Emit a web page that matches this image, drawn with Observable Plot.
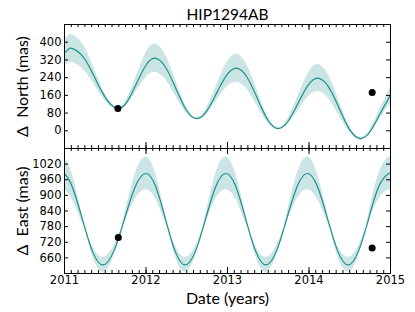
<!DOCTYPE html>
<html><head><meta charset="utf-8">
<script src="https://cdn.jsdelivr.net/npm/d3@7"></script>
<script src="https://cdn.jsdelivr.net/npm/@observablehq/plot@0.6"></script>
<style>
body{margin:0;background:#fff}
#c{position:relative;width:415px;height:312px;overflow:hidden}
#c svg{position:absolute;left:0}
</style>
</head><body><div id="c"></div>
<script>
// ---- data ----
const northYears  = [2011.000,2011.045,2011.090,2011.233,2011.375,2011.518,2011.660,2011.773,2011.885,2011.998,2012.110,2012.238,2012.365,2012.493,2012.620,2012.743,2012.865,2012.988,2013.110,2013.238,2013.365,2013.493,2013.620,2013.743,2013.865,2013.988,2014.110,2014.240,2014.370,2014.500,2014.630,2014.753,2014.875,2015.000];
const northMean   = [352,366,372,332,237,141,101,134,215,295,328,288,192,95,55,88,169,250,283,243,147,50,10,43,124,205,238,198,102,5,-35,-2,79,160];
const northSpread = [60,62,63,55,34,14,5,14,35,55,64,55,35,14,5,14,35,55,64,55,35,14,5,13,33,53,61,53,33,13,5,10,22,37];
const northObsYears = [2011.655, 2014.775];
const northObs      = [101, 173];

const eastYears  = [2011.000,2011.095,2011.220,2011.260,2011.345,2011.470,2011.603,2011.693,2011.735,2011.868,2012.000,2012.120,2012.240,2012.278,2012.360,2012.480,2012.605,2012.690,2012.730,2012.855,2012.980,2013.103,2013.225,2013.264,2013.348,2013.470,2013.598,2013.684,2013.725,2013.853,2013.980,2014.105,2014.230,2014.270,2014.355,2014.480,2014.605,2014.690,2014.730,2014.855,2014.980,2015.000];
const eastMean   = [982,933,808,765,684,633,684,765,808,933,984,933,808,765,684,633,684,765,808,933,984,933,808,765,684,633,684,765,808,933,984,933,808,765,684,633,684,765,808,933,984,983];
const eastSpread = [61,48,15,4,19,29,19,4,15,48,62,48,15,4,19,29,19,4,15,48,62,48,15,4,19,29,19,4,15,48,62,48,15,4,19,29,19,4,15,48,62,62];
const eastObsYears = [2011.66, 2014.775];
const eastObs      = [738, 698];

const xTicks = [2011, 2012, 2013, 2014, 2015];
const xMinorTicks = d3.range(0, 49).map(k => 2011 + k / 12);
const northTicks = [0, 80, 160, 240, 320, 400];
const eastTicks = [660, 720, 780, 840, 900, 960, 1020];

const TEAL = "#1f8f8c";
const BAND = "#cbe5e4";
const LABEL_FONT = "Lato, 'Open Sans', sans-serif";
const TICK_FONT = "'DejaVu Sans', sans-serif";
const W = 415, ML = 64, MR = 25;

function panel(o) {
  const fit = o.years.map((t, i) => ({t, m: o.mean[i], lo: o.mean[i] - o.spread[i], hi: o.mean[i] + o.spread[i]}));
  const pts = o.obsYears.map((t, i) => ({t, v: o.obs[i]}));
  const H = o.height - o.marginTop - o.marginBottom;
  const IW = W - ML - MR;
  const marks = [
    Plot.areaY(fit, {x: "t", y1: "lo", y2: "hi", fill: BAND, curve: "natural", clip: true}),
    Plot.line(fit, {x: "t", y: "m", stroke: TEAL, strokeWidth: 1.2, curve: "natural", clip: true}),
    Plot.dot(pts, {x: "t", y: "v", r: 3.5, fill: "black", stroke: "none"}),
    Plot.frame({stroke: "black", strokeWidth: 1}),
    Plot.ruleX(xTicks, {x: d => d, insetTop: H - 6, stroke: "black"}),
    Plot.ruleX(xTicks, {x: d => d, insetBottom: H - 6, stroke: "black"}),
    Plot.ruleX(xMinorTicks, {x: d => d, insetTop: H - 3, stroke: "black"}),
    Plot.ruleX(xMinorTicks, {x: d => d, insetBottom: H - 3, stroke: "black"}),
    Plot.ruleY(o.yTicks, {y: d => d, insetRight: IW - 4, stroke: "black"}),
    Plot.ruleY(o.yTicks, {y: d => d, insetLeft: IW - 4, stroke: "black"}),
    Plot.axisY({ticks: o.yTicks, tickSize: 0, tickPadding: 3, label: null, fontSize: 11.5, fontFamily: TICK_FONT, tickFormat: d => String(d)}),
    Plot.text([o.label], {text: d => d, frameAnchor: "left", textAnchor: "middle", dx: -42, rotate: -90, fontSize: 16, fontFamily: LABEL_FONT, fill: "black"})
  ];
  if (o.showX) {
    marks.push(Plot.axisX({ticks: xTicks, tickSize: 0, tickPadding: 2, label: null, fontSize: 11.5, fontFamily: TICK_FONT, tickFormat: d => String(d)}));
    marks.push(Plot.text(["Date (years)"], {text: d => d, frameAnchor: "bottom", dy: 19, lineAnchor: "top", fontSize: 16, fontFamily: LABEL_FONT, fill: "black"}));
  }
  if (o.title) {
    marks.push(Plot.text([o.title], {text: d => d, frameAnchor: "top", dy: -5, lineAnchor: "bottom", fontSize: 15.5, fontFamily: LABEL_FONT, fill: "black"}));
  }
  const svg = Plot.plot({
    width: W, height: o.height,
    marginLeft: ML, marginRight: MR, marginTop: o.marginTop, marginBottom: o.marginBottom,
    x: {domain: [2011, 2015], axis: o.showX ? undefined : null},
    y: {domain: o.yDomain},
    style: {background: "transparent", overflow: "visible"},
    marks
  });
  svg.style.top = o.top + "px";
  return svg;
}

const c = document.getElementById("c");
c.appendChild(panel({
  years: northYears, mean: northMean, spread: northSpread, obsYears: northObsYears, obs: northObs,
  yDomain: [-80, 480], yTicks: northTicks, label: "Δ  North (mas)",
  height: 148, marginTop: 24, marginBottom: 0, top: 0, showX: false, title: "HIP1294AB"
}));
c.appendChild(panel({
  years: eastYears, mean: eastMean, spread: eastSpread, obsYears: eastObsYears, obs: eastObs,
  yDomain: [600, 1080], yTicks: eastTicks, label: "Δ  East (mas)",
  height: 164, marginTop: 0, marginBottom: 39, top: 148, showX: true
}));
</script>
</body></html>
